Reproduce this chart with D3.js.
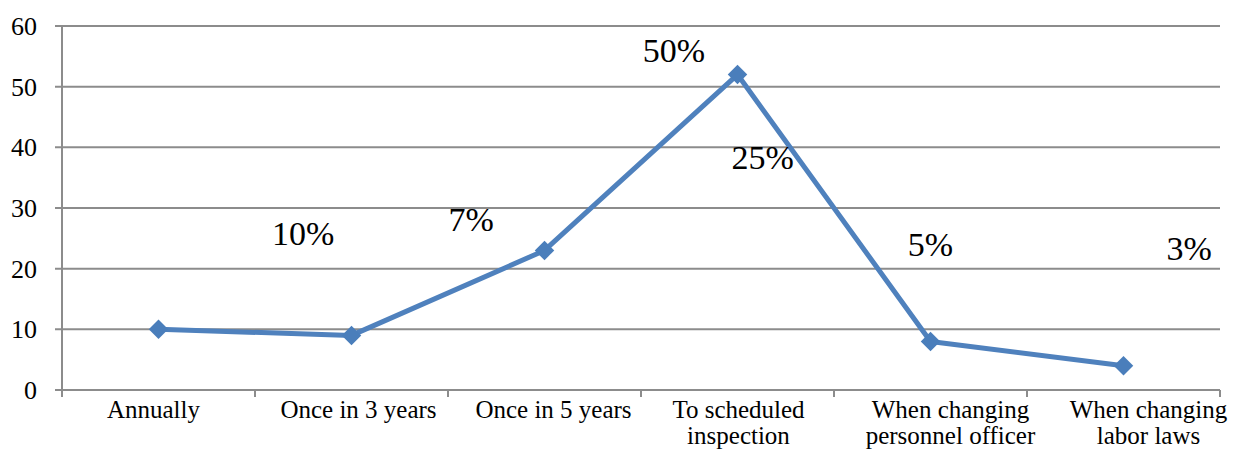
<!DOCTYPE html>
<html>
<head>
<meta charset="utf-8">
<script src="https://cdn.jsdelivr.net/npm/d3@7"></script>
<style>
  body { margin: 0; background: #fff; }
  svg text { font-family: "Liberation Serif", "Times New Roman", Times, "DejaVu Serif", serif; fill: #000; }
</style>
</head>
<body>
<div id="chart"></div>
<script>
// data
const categories = [
  ["Annually"],
  ["Once in 3 years"],
  ["Once in 5 years"],
  ["To scheduled", "inspection"],
  ["When changing", "personnel officer"],
  ["When changing", "labor laws"]
];
const values = [10, 9, 23, 52, 8, 4];
const yTicks = [0, 10, 20, 30, 40, 50, 60];
const pctLabels = ["10%", "7%", "50%", "25%", "5%", "3%"];
// where the floating labels sit: category position (fractional) and value level
const pctAnchorCat = [1.25, 2.12, 3.17, 3.63, 4.50, 5.84];
const pctAnchorVal = [25.9, 28.2, 56.0, 38.4, 24.1, 23.4];

const width = 1241, height = 451;
const margin = { top: 26, right: 21, bottom: 61, left: 62 };

// category labels in the original are not quite centred under their bands
const labelNudge = [-5, 7, 9, 1, 20, 25];

const svg = d3.select("#chart").append("svg")
    .attr("width", width)
    .attr("height", height);

const x = d3.scaleBand()
    .domain(d3.range(categories.length))
    .range([margin.left, width - margin.right]);

const y = d3.scaleLinear()
    .domain([0, 60])
    .range([height - margin.bottom, margin.top]);

const catX = c => margin.left + c * x.step();

// gridlines
svg.append("g")
    .selectAll("line")
    .data(yTicks)
    .join("line")
    .attr("x1", margin.left - 7)
    .attr("x2", width - margin.right)
    .attr("y1", d => y(d))
    .attr("y2", d => y(d))
    .attr("stroke", "#8c8c8c")
    .attr("stroke-width", 2);

// y axis line
svg.append("line")
    .attr("x1", margin.left).attr("x2", margin.left)
    .attr("y1", y(60)).attr("y2", y(0) + 7)
    .attr("stroke", "#8c8c8c")
    .attr("stroke-width", 2);

// x ticks at category boundaries
svg.append("g")
    .selectAll("line")
    .data(d3.range(categories.length + 1))
    .join("line")
    .attr("x1", d => catX(d))
    .attr("x2", d => catX(d))
    .attr("y1", y(0))
    .attr("y2", y(0) + 7)
    .attr("stroke", "#8c8c8c")
    .attr("stroke-width", 2);

// y tick labels
svg.append("g")
    .selectAll("text")
    .data(yTicks)
    .join("text")
    .attr("x", 37)
    .attr("y", d => y(d))
    .attr("dy", "0.35em")
    .attr("text-anchor", "end")
    .style("font-size", "26px")
    .text(d => d);

// category labels
const catG = svg.append("g")
    .selectAll("text")
    .data(categories)
    .join("text")
    .attr("text-anchor", "middle")
    .style("font-size", "25px");
catG.selectAll("tspan")
    .data((d, i) => d.map(t => ({ t, i })))
    .join("tspan")
    .attr("x", d => x(d.i) + x.bandwidth() / 2 + labelNudge[d.i])
    .attr("y", (d, j) => 418 + j * 26)
    .text(d => d.t);

// line
const line = d3.line()
    .x((d, i) => x(i) + x.bandwidth() / 2)
    .y(d => y(d));

svg.append("path")
    .datum(values)
    .attr("d", line)
    .attr("fill", "none")
    .attr("stroke", "#4f81bd")
    .attr("stroke-width", 5)
    .attr("stroke-linejoin", "round");

svg.append("g")
    .selectAll("path")
    .data(values)
    .join("path")
    .attr("d", d3.symbol(d3.symbolSquare, 190))
    .attr("transform", (d, i) => `translate(${x(i) + x.bandwidth() / 2},${y(d)}) rotate(45)`)
    .attr("fill", "#4a7ebb");

// floating percentage labels
svg.append("g")
    .selectAll("text")
    .data(pctLabels)
    .join("text")
    .attr("x", (d, i) => catX(pctAnchorCat[i]))
    .attr("y", (d, i) => y(pctAnchorVal[i]))
    .attr("text-anchor", "middle")
    .attr("dy", "0.35em")
    .style("font-size", "34px")
    .text(d => d);
</script>
</body>
</html>
